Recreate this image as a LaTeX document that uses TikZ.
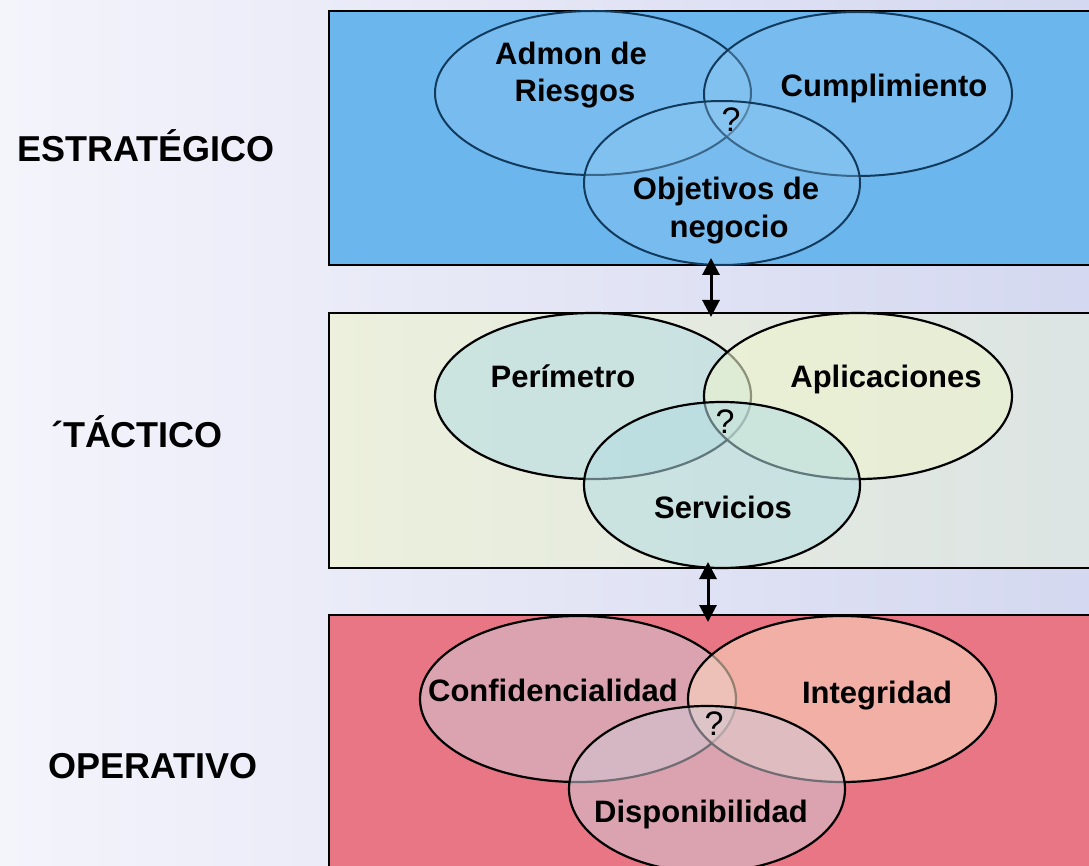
\documentclass[tikz,border=0pt]{standalone}
\usepackage{fontspec}
\setmainfont{Liberation Sans}
\usetikzlibrary{arrows.meta}
\definecolor{bgleft}{RGB}{244,244,251}
\definecolor{bgright}{RGB}{212,216,240}
\definecolor{stratfill}{RGB}{108,182,238}
\definecolor{stratline}{RGB}{18,58,92}
\definecolor{stratvenn}{RGB}{150,205,242}
\definecolor{tacleft}{RGB}{236,240,220}
\definecolor{tacright}{RGB}{220,228,228}
\definecolor{tacblue}{RGB}{180,220,226}
\definecolor{tacgreen}{RGB}{238,244,206}
\definecolor{opfill}{RGB}{232,118,132}
\definecolor{opgray}{RGB}{208,200,212}
\definecolor{oppeach}{RGB}{250,214,190}
\tikzset{
    band/.style={draw=black, line width=2.2pt},
    lbl/.style={font=\fontsize{31}{37}\selectfont\bfseries, anchor=base, inner sep=0pt},
    side/.style={font=\fontsize{36}{40}\selectfont\bfseries, anchor=base, inner sep=0pt},
    qmark/.style={font=\fontsize{34}{36}\selectfont, anchor=base, inner sep=0pt},
    link/.style={{Triangle[width=17pt,length=17pt]}-{Triangle[width=17pt,length=17pt]}, line width=3pt},
}
\begin{document}
\begin{tikzpicture}[x=1pt, y=-1pt]
    \useasboundingbox (0,0) rectangle (1089,866);
    \clip (0,0) rectangle (1089,866);
    \shade[left color=bgleft, right color=bgright] (0,0) rectangle (1089,866);

    \filldraw[band, fill=stratfill] (329,11) rectangle (1100,265);
\foreach \x\y\r in {593/93/158, 858/94/154, 722/183/138}{
    \filldraw[draw=stratline, line width=2pt, fill=stratvenn, fill opacity=0.3] (\x,\y) ellipse [x radius=\r pt, y radius=82pt];
}

    \shade[left color=tacleft, right color=tacright] (329,313) rectangle (1100,568);
    \draw[band] (329,313) rectangle (1100,568);
    \filldraw[line width=2.2pt, fill=tacblue, fill opacity=0.55] (593,396) ellipse [x radius=158pt, y radius=83pt];
    \filldraw[line width=2.2pt, fill=tacgreen, fill opacity=0.6] (858,396) ellipse [x radius=154pt, y radius=83pt];
    \filldraw[line width=2.2pt, fill=tacblue, fill opacity=0.55] (722,485) ellipse [x radius=138pt, y radius=83pt];

    \filldraw[band, fill=opfill] (329,615) rectangle (1100,880);
    \filldraw[line width=2.2pt, fill=opgray, fill opacity=0.55] (578,699) ellipse [x radius=158pt, y radius=83pt];
    \filldraw[line width=2.2pt, fill=oppeach, fill opacity=0.6] (842,699) ellipse [x radius=154pt, y radius=83pt];
    \filldraw[line width=2.2pt, fill=opgray, fill opacity=0.55] (707,789) ellipse [x radius=138pt, y radius=83pt];

    \node[lbl] (admon) at (571,65) {Admon de};
    \node[lbl] (riesgos) at (575,102) {Riesgos};
    \node[lbl] (cumpl) at (884,97) {Cumplimiento};
    \node[lbl] (objet) at (726,200) {Objetivos de};
    \node[lbl] (negocio) at (729,238) {negocio};
    \node[lbl] (perim) at (563,387) {Perímetro};
    \node[lbl] (aplic) at (886,387) {Aplicaciones};
    \node[lbl] (serv) at (723,518) {Servicios};
    \node[lbl] (confid) at (553,701) {Confidencialidad};
    \node[lbl] (integ) at (877,703) {Integridad};
    \node[lbl] (dispo) at (701,822) {Disponibilidad};

\foreach \x\y [count=\i] in {731/132, 725/433, 714/735}{
    \node[qmark] (q\i) at (\x,\y) {?};
}

\foreach \x\y\t [count=\i] in {146/162/ESTRATÉGICO, 137/447/´TÁCTICO, 153/778/OPERATIVO}{
    \node[side] (level\i) at (\x,\y) {\t};
}

    \coordinate (stratlow) at (711,258);
    \coordinate (tactop) at (711,317);
    \coordinate (taclow) at (708,562);
    \coordinate (optop) at (708,622);
    \draw[link] (stratlow) -- (tactop);
    \draw[link] (taclow) -- (optop);
\end{tikzpicture}
\end{document}
